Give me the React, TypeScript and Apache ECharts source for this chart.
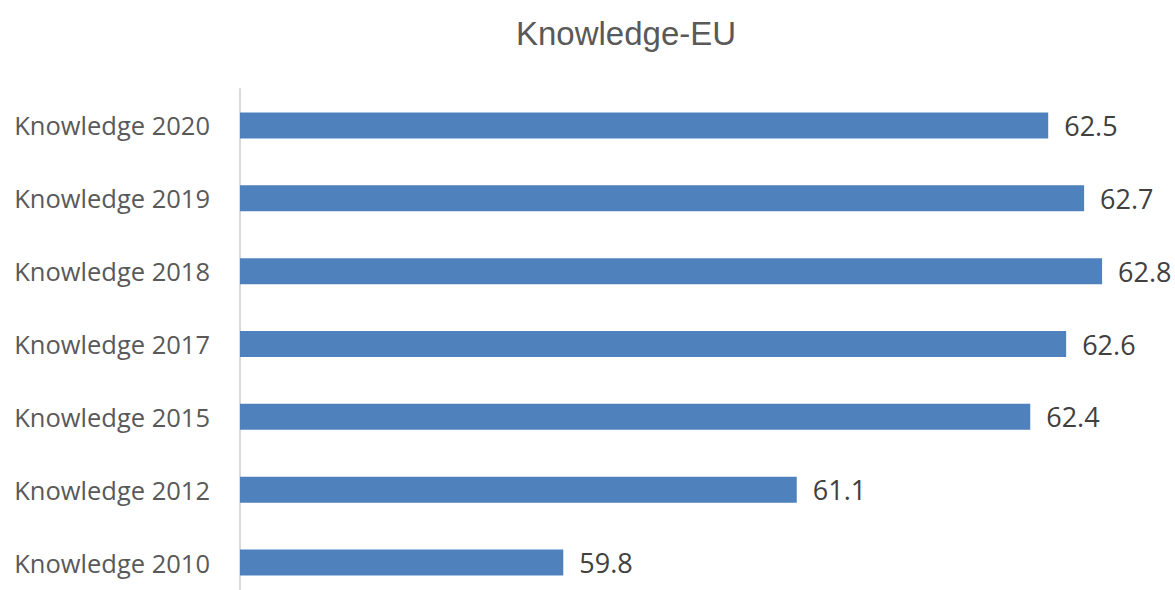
import React, { useEffect, useRef } from "react";
import * as echarts from "echarts";

const categories = [
  "Knowledge 2010",
  "Knowledge 2012",
  "Knowledge 2015",
  "Knowledge 2017",
  "Knowledge 2018",
  "Knowledge 2019",
  "Knowledge 2020",
];
const values = [59.8, 61.1, 62.4, 62.6, 62.8, 62.7, 62.5];
const titleText = "Knowledge-EU";

export default function App() {
  const ref = useRef<HTMLDivElement>(null);
  useEffect(() => {
    if (!ref.current) return;
    const chart = echarts.init(ref.current, undefined, { renderer: "svg" });
    chart.setOption({
      animation: false,
      backgroundColor: "#ffffff",
      title: {
        text: titleText,
        left: 621,
        top: 12,
        textAlign: "center",
        textStyle: {
          fontFamily: "Liberation Sans",
          fontSize: 33,
          fontWeight: "normal",
          color: "#595959",
        },
      },
      grid: { left: 240, top: 89, height: 510, right: 37 },
      xAxis: {
        type: "value",
        min: 58,
        max: 63,
        show: false,
      },
      yAxis: {
        type: "category",
        data: categories,
        axisLine: { show: true, lineStyle: { color: "#d9d9d9", width: 2 } },
        axisTick: { show: false },
        axisLabel: {
          margin: 30,
          fontFamily: "Open Sans",
          fontSize: 25.5,
          color: "#595959",
        },
      },
      series: [
        {
          type: "bar",
          data: values,
          barWidth: 26,
          itemStyle: { color: "#4f81bd" },
          label: {
            show: true,
            position: "right",
            distance: 16,
            fontFamily: "Open Sans",
            fontSize: 27,
            color: "#404040",
          },
        },
      ],
    });
    return () => chart.dispose();
  }, []);
  return (
    <div
      style={{
        position: "fixed",
        left: 0,
        top: 0,
        width: 1175,
        height: 590,
        overflow: "hidden",
        background: "#ffffff",
      }}
    >
      <div ref={ref} style={{ width: 1175, height: 604 }} />
    </div>
  );
}
